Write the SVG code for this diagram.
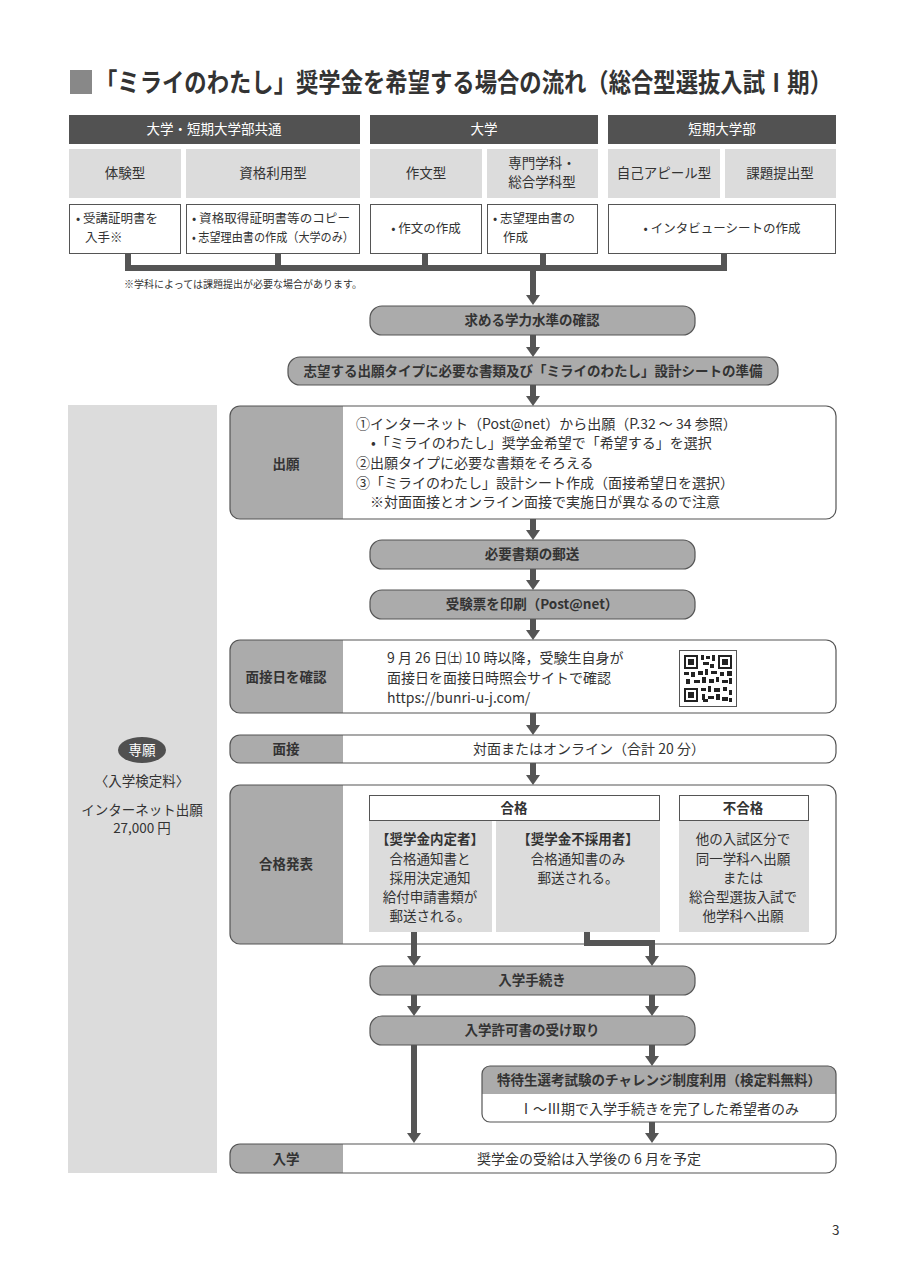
<svg xmlns="http://www.w3.org/2000/svg" width="905" height="1280" viewBox="0 0 905 1280">
<style>
text{font-family:"Noto Sans CJK JP","Noto Sans",sans-serif;fill:#333;font-size:13.5px}
.c{text-anchor:middle}
.b{font-weight:bold}
.w{fill:#fff}
.t{font-size:22.5px;font-weight:bold}
.sm{font-size:10px}
.task{font-size:12.5px}
.big{font-size:14px}
.hdr{fill:#525252}
.cell{fill:#dcdcdc}
.wc{fill:#fff;stroke:#555;stroke-width:1}
.pill{fill:#ababab;stroke:#555;stroke-width:1.2}
.frame{fill:none;stroke:#555;stroke-width:1.2}
.lg{fill:#ababab}
.ln{stroke:#555;stroke-width:6;fill:none}
.ar{stroke:#555;stroke-width:6;fill:none;marker-end:url(#ah)}
</style>
<defs>
<marker id="ah" markerUnits="userSpaceOnUse" viewBox="0 -7 10 14" refX="0" refY="0" markerWidth="10" markerHeight="14" orient="auto">
<path d="M0,-7 L10,0 L0,7 Z" fill="#555"/>
</marker>
</defs>
<rect width="905" height="1280" fill="#fff"/>

<g id="title">
<rect x="70" y="70" width="22" height="24" fill="#888"/>
<text class="t" transform="translate(95,92) scale(1,1.15)" x="0" y="0" textLength="737" lengthAdjust="spacingAndGlyphs">「ミライのわたし」奨学金を希望する場合の流れ（総合型選抜入試Ⅰ期）</text>
</g>

<g id="header-row">
<rect class="hdr" x="69" y="115" width="291" height="29"/>
<text class="c w" x="214" y="134">大学・短期大学部共通</text>
<rect class="hdr" x="370" y="115" width="228" height="29"/>
<text class="c w" x="484" y="134">大学</text>
<rect class="hdr" x="608" y="115" width="228" height="29"/>
<text class="c w" x="722" y="134">短期大学部</text>
</g>

<g id="type-row">
<rect class="cell" x="69" y="149" width="112" height="49"/>
<text class="c" x="125" y="178">体験型</text>
<rect class="cell" x="186" y="149" width="174" height="49"/>
<text class="c" x="273" y="178">資格利用型</text>
<rect class="cell" x="370" y="149" width="112" height="49"/>
<text class="c" x="426" y="178">作文型</text>
<rect class="cell" x="487" y="149" width="111" height="49"/>
<text class="c" x="542" y="168">専門学科・</text>
<text class="c" x="542" y="187">総合学科型</text>
<rect class="cell" x="608" y="149" width="112" height="49"/>
<text class="c" x="664" y="178">自己アピール型</text>
<rect class="cell" x="725" y="149" width="111" height="49"/>
<text class="c" x="780" y="178">課題提出型</text>
</g>

<g id="task-row">
<rect class="wc" x="69.5" y="204.5" width="111" height="49"/>
<text class="task" x="76" y="223">• 受講証明書を</text>
<text class="task" x="85" y="242">入手※</text>
<rect class="wc" x="186.5" y="204.5" width="173" height="49"/>
<text class="task" x="192" y="223" textLength="158" lengthAdjust="spacingAndGlyphs">• 資格取得証明書等のコピー</text>
<text class="task" x="192" y="242" textLength="162" lengthAdjust="spacingAndGlyphs">• 志望理由書の作成（大学のみ）</text>
<rect class="wc" x="370.5" y="204.5" width="111" height="49"/>
<text class="c task" x="426" y="233">• 作文の作成</text>
<rect class="wc" x="487.5" y="204.5" width="110" height="49"/>
<text class="task" x="493" y="223">• 志望理由書の</text>
<text class="task" x="503" y="242">作成</text>
<rect class="wc" x="608.5" y="204.5" width="227" height="49"/>
<text class="c task" x="722" y="233">• インタビューシートの作成</text>
</g>

<g id="footnote">
<text class="sm" x="124" y="288">※学科によっては課題提出が必要な場合があります。</text>
</g>

<g id="left-panel">
<rect x="68" y="405" width="149" height="768" fill="#dcdcdc"/>
<ellipse cx="142" cy="750" rx="24" ry="13" fill="#505050"/>
<text class="c w" x="142" y="755">専願</text>
<text class="c" x="142" y="786">〈入学検定料〉</text>
<text class="c" x="142" y="815">インターネット出願</text>
<text class="c" x="142" y="833">27,000 円</text>
</g>

<g id="step-level">
<rect class="pill" x="370" y="306" width="325" height="29" rx="12"/>
<text class="c b" x="532" y="325">求める学力水準の確認</text>
</g>
<g id="step-prepare">
<rect class="pill" x="288" y="357" width="490" height="28" rx="12"/>
<text class="c b" x="533" y="376">志望する出願タイプに必要な書類及び「ミライのわたし」設計シートの準備</text>
</g>

<g id="step-apply">
<rect x="230" y="406" width="606" height="113" rx="10" fill="#fff"/>
<path class="lg" d="M240,406 H343 V519 H240 A10,10 0 0 1 230,509 V416 A10,10 0 0 1 240,406 Z"/>
<rect class="frame" x="230" y="406" width="606" height="113" rx="10"/>
<text class="c b" x="286" y="469">出願</text>
<text class="big" x="356" y="429">①インターネット（Post@net）から出願（P.32 ～ 34 参照）</text>
<text class="big" x="371" y="448">•「ミライのわたし」奨学金希望で「希望する」を選択</text>
<text class="big" x="356" y="468">②出願タイプに必要な書類をそろえる</text>
<text class="big" x="356" y="488">③「ミライのわたし」設計シート作成（面接希望日を選択）</text>
<text class="big" x="370" y="507">※対面面接とオンライン面接で実施日が異なるので注意</text>
</g>

<g id="step-mail">
<rect class="pill" x="370" y="540" width="325" height="29" rx="12"/>
<text class="c b" x="532" y="559">必要書類の郵送</text>
</g>
<g id="step-print">
<rect class="pill" x="370" y="590" width="325" height="29" rx="12"/>
<text class="c b" x="532" y="609">受験票を印刷（Post@net）</text>
</g>

<g id="step-check">
<rect x="230" y="640" width="606" height="73" rx="10" fill="#fff"/>
<path class="lg" d="M240,640 H343 V713 H240 A10,10 0 0 1 230,703 V650 A10,10 0 0 1 240,640 Z"/>
<rect class="frame" x="230" y="640" width="606" height="73" rx="10"/>
<text class="c b" x="286" y="682">面接日を確認</text>
<text class="big" x="387" y="663">9 月 26 日㈯ 10 時以降，受験生自身が</text>
<text class="big" x="387" y="683">面接日を面接日時照会サイトで確認</text>
<text class="big" x="387" y="703">https://bunri-u-j.com/</text>
<g id="qr">
<rect x="679.5" y="650.5" width="57" height="56" fill="#fff" stroke="#555"/>
<g fill="#222">
<rect x="684" y="655" width="14" height="14"/><rect x="686" y="657" width="10" height="10" fill="#fff"/><rect x="688" y="659" width="6" height="6"/>
<rect x="718" y="655" width="14" height="14"/><rect x="720" y="657" width="10" height="10" fill="#fff"/><rect x="722" y="659" width="6" height="6"/>
<rect x="684" y="688" width="14" height="14"/><rect x="686" y="690" width="10" height="10" fill="#fff"/><rect x="688" y="692" width="6" height="6"/>
<rect x="701" y="655" width="3" height="5"/><rect x="706" y="656" width="4" height="3"/><rect x="712" y="655" width="3" height="6"/><rect x="703" y="662" width="6" height="3"/><rect x="710" y="664" width="4" height="4"/>
<rect x="684" y="672" width="5" height="3"/><rect x="691" y="672" width="4" height="5"/><rect x="698" y="671" width="5" height="4"/><rect x="705" y="669" width="3" height="6"/><rect x="711" y="671" width="6" height="3"/><rect x="720" y="672" width="4" height="4"/><rect x="727" y="671" width="5" height="5"/>
<rect x="686" y="679" width="4" height="5"/><rect x="694" y="680" width="6" height="3"/><rect x="702" y="677" width="4" height="6"/><rect x="709" y="679" width="5" height="4"/><rect x="716" y="677" width="3" height="5"/><rect x="722" y="680" width="6" height="3"/><rect x="729" y="678" width="3" height="6"/>
<rect x="701" y="688" width="5" height="3"/><rect x="708" y="686" width="3" height="6"/><rect x="714" y="688" width="6" height="4"/><rect x="723" y="687" width="4" height="4"/><rect x="729" y="690" width="3" height="5"/>
<rect x="702" y="694" width="3" height="6"/><rect x="708" y="696" width="6" height="3"/><rect x="716" y="694" width="4" height="6"/><rect x="722" y="697" width="6" height="4"/><rect x="703" y="699" width="5" height="3"/><rect x="729" y="698" width="3" height="4"/>
</g>
</g>
</g>

<g id="step-interview">
<rect x="230" y="735" width="606" height="28" rx="10" fill="#fff"/>
<path class="lg" d="M240,735 H343 V763 H240 A10,10 0 0 1 230,753 V745 A10,10 0 0 1 240,735 Z"/>
<rect class="frame" x="230" y="735" width="606" height="28" rx="10"/>
<text class="c b" x="286" y="754">面接</text>
<text class="c big" x="589" y="754">対面またはオンライン（合計 20 分）</text>
</g>

<g id="step-result">
<rect x="230" y="785" width="606" height="159" rx="10" fill="#fff"/>
<path class="lg" d="M240,785 H343 V944 H240 A10,10 0 0 1 230,934 V795 A10,10 0 0 1 240,785 Z"/>
<rect class="frame" x="230" y="785" width="606" height="159" rx="10"/>
<text class="c b" x="286" y="869">合格発表</text>
<rect class="wc" x="369.5" y="795.5" width="290" height="25"/>
<text class="c b" x="514" y="813">合格</text>
<rect class="wc" x="679.5" y="795.5" width="129" height="25"/>
<text class="c b" x="743" y="813">不合格</text>
<rect class="cell" x="369" y="821" width="123" height="111"/>
<text class="c b" x="430" y="844">【奨学金内定者】</text>
<text class="c" x="430" y="864">合格通知書と</text>
<text class="c" x="430" y="883">採用決定通知</text>
<text class="c" x="430" y="902">給付申請書類が</text>
<text class="c" x="430" y="921">郵送される。</text>
<rect class="cell" x="496" y="821" width="164" height="111"/>
<text class="c b" x="578" y="844">【奨学金不採用者】</text>
<text class="c" x="578" y="864">合格通知書のみ</text>
<text class="c" x="578" y="883">郵送される。</text>
<rect class="cell" x="679" y="821" width="130" height="111"/>
<text class="c" x="743" y="844">他の入試区分で</text>
<text class="c" x="743" y="864">同一学科へ出願</text>
<text class="c" x="743" y="883">または</text>
<text class="c" x="743" y="902">総合型選抜入試で</text>
<text class="c" x="743" y="921">他学科へ出願</text>
</g>

<g id="step-procedure">
<rect class="pill" x="370" y="966" width="325" height="29" rx="12"/>
<text class="c b" x="532" y="985">入学手続き</text>
</g>
<g id="step-permit">
<rect class="pill" x="370" y="1016" width="325" height="29" rx="12"/>
<text class="c b" x="532" y="1035">入学許可書の受け取り</text>
</g>

<g id="step-challenge">
<rect x="482" y="1066" width="354" height="56" rx="8" fill="#fff"/>
<path class="lg" d="M490,1066 H828 A8,8 0 0 1 836,1074 V1094 H482 V1074 A8,8 0 0 1 490,1066 Z"/>
<rect class="frame" x="482" y="1066" width="354" height="56" rx="8"/>
<text class="c b" x="659" y="1085">特待生選考試験のチャレンジ制度利用（検定料無料）</text>
<text class="c big" x="659" y="1114">Ⅰ～Ⅲ期で入学手続きを完了した希望者のみ</text>
</g>

<g id="step-enroll">
<rect x="230" y="1144" width="606" height="29" rx="10" fill="#fff"/>
<path class="lg" d="M240,1144 H343 V1173 H240 A10,10 0 0 1 230,1163 V1154 A10,10 0 0 1 240,1144 Z"/>
<rect class="frame" x="230" y="1144" width="606" height="29" rx="10"/>
<text class="c b" x="286" y="1164">入学</text>
<text class="c big" x="589" y="1164">奨学金の受給は入学後の 6 月を予定</text>
</g>

<g id="connectors">
<path class="ln" d="M128,253 V268 M278,253 V268 M425,253 V268 M543,253 V268 M724,253 V268 M125,268 H727"/>
<path class="ar" d="M533,265 V295"/>
<path class="ar" d="M533,335 V347"/>
<path class="ar" d="M533,385 V396"/>
<path class="ar" d="M533,519 V530"/>
<path class="ar" d="M533,569 V580"/>
<path class="ar" d="M533,619 V630"/>
<path class="ar" d="M533,713 V725"/>
<path class="ar" d="M533,763 V775"/>
<path class="ar" d="M414,932 V956"/>
<path class="ar" d="M587,932 V943 H652 V956"/>
<path class="ar" d="M414,995 V1006"/>
<path class="ar" d="M652,995 V1006"/>
<path class="ar" d="M414,1045 V1133"/>
<path class="ar" d="M652,1045 V1056"/>
<path class="ar" d="M652,1122 V1133"/>
</g>

<g id="page-number">
<text x="832" y="1235">3</text>
</g>
</svg>
